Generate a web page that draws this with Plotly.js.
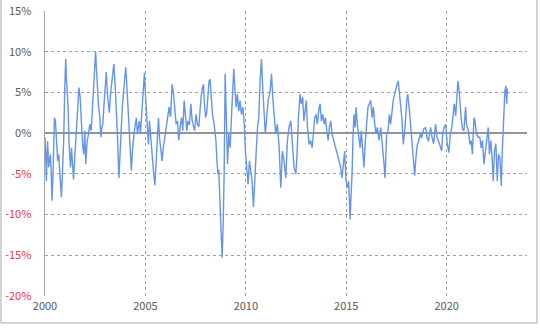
<!DOCTYPE html>
<html>
<head>
<meta charset="utf-8">
<script src="https://cdn.plot.ly/plotly-3.0.1.min.js"></script>
<style>
html,body{margin:0;padding:0;background:#fff;}
#chart{width:540px;height:328px;}
</style>
</head>
<body>
<div id="chart"></div>
<script>
// Decimal years (x) and values in percent (y)
const years = [
2000.00,2000.04,2000.07,2000.10,2000.13,2000.18,2000.22,2000.27,2000.31,2000.35,2000.40,2000.44,2000.47,2000.52,2000.57,2000.63,2000.68,2000.73,2000.77,2000.82,2000.85,2000.88,2000.93,2000.98,
2001.03,2001.07,2001.10,2001.15,2001.20,2001.27,2001.32,2001.37,2001.42,2001.47,2001.52,2001.57,2001.63,2001.69,2001.75,2001.80,2001.87,2001.93,2001.98,
2002.03,2002.10,2002.17,2002.23,2002.30,2002.37,2002.43,2002.48,2002.52,2002.56,2002.62,2002.67,2002.73,2002.78,2002.83,2002.88,2002.93,
2003.00,2003.05,2003.12,2003.20,2003.27,2003.35,2003.43,2003.50,2003.57,2003.62,2003.68,2003.74,2003.80,2003.85,2003.90,2003.97,
2004.02,2004.07,2004.12,2004.17,2004.23,2004.30,2004.35,2004.40,2004.45,2004.50,2004.55,2004.60,2004.65,2004.70,2004.75,2004.80,2004.85,2004.90,2004.95,2004.99,
2005.07,2005.15,2005.20,2005.27,2005.34,2005.40,2005.47,2005.52,2005.57,2005.65,2005.70,2005.77,2005.83,2005.88,
2006.02,2006.10,2006.18,2006.25,2006.33,2006.40,2006.47,2006.53,2006.60,2006.66,2006.73,2006.80,2006.86,2006.93,
2007.00,2007.06,2007.12,2007.19,2007.26,2007.33,2007.40,2007.45,2007.52,2007.59,2007.66,2007.72,2007.77,2007.84,2007.89,2007.94,
2008.00,2008.05,2008.10,2008.17,2008.22,2008.28,2008.34,2008.42,2008.51,2008.56,2008.61,2008.65,2008.70,2008.75,2008.79,2008.82,2008.87,2008.92,2008.97,
2009.02,2009.09,2009.15,2009.22,2009.29,2009.35,2009.40,2009.46,2009.52,2009.58,2009.65,2009.71,2009.78,2009.85,2009.92,2009.98,
2010.05,2010.11,2010.18,2010.25,2010.31,2010.38,2010.44,2010.51,2010.58,2010.645,2010.71,2010.78,2010.84,2010.91,2010.97,
2011.04,2011.11,2011.21,2011.28,2011.34,2011.41,2011.49,2011.57,2011.66,2011.74,2011.82,2011.90,2011.99,
2012.07,2012.15,2012.24,2012.32,2012.40,2012.49,2012.55,2012.62,2012.70,2012.76,2012.83,2012.89,2012.95,
2013.01,2013.07,2013.15,2013.22,2013.30,2013.36,2013.43,2013.50,2013.56,2013.65,2013.70,2013.76,2013.83,2013.90,2013.96,
2014.03,2014.10,2014.16,2014.23,2014.29,2014.39,2014.47,2014.56,2014.64,2014.72,2014.79,2014.85,2014.92,2014.99,
2015.06,2015.12,2015.19,2015.24,2015.29,2015.34,2015.39,2015.44,2015.49,2015.55,2015.62,2015.69,2015.75,2015.82,2015.88,2015.95,
2016.02,2016.08,2016.15,2016.22,2016.29,2016.35,2016.42,2016.48,2016.55,2016.63,2016.72,2016.80,2016.88,2016.93,2016.97,
2017.01,2017.08,2017.15,2017.21,2017.28,2017.34,2017.41,2017.48,2017.53,2017.59,2017.65,2017.71,2017.78,2017.84,2017.92,
2018.01,2018.06,2018.13,2018.20,2018.26,2018.34,2018.41,2018.47,2018.53,2018.60,2018.70,2018.75,2018.85,2018.95,
2019.02,2019.09,2019.16,2019.20,2019.27,2019.35,2019.45,2019.52,2019.60,2019.70,2019.75,2019.80,2019.87,2019.95,
2020.03,2020.11,2020.18,2020.26,2020.33,2020.38,2020.45,2020.52,2020.56,2020.62,2020.68,2020.73,2020.79,2020.86,2020.94,2020.99,
2021.08,2021.16,2021.22,2021.28,2021.36,2021.41,2021.48,2021.57,2021.65,2021.72,2021.78,2021.86,2021.93,
2022.02,2022.07,2022.13,2022.20,2022.27,2022.32,2022.38,2022.45,2022.52,2022.58,2022.65,2022.72,2022.77,2022.82,2022.86,2022.90,2022.95,2022.99,2023.02
];
const values = [
-0.5,-3.0,-5.9,-2.5,-1.0,-4.2,-3.0,-2.6,-5.0,-8.3,-5.0,-1.0,1.9,1.5,-0.9,-3.4,-2.6,-4.5,-5.9,-7.9,-6.0,-4.2,-0.9,5.2,
9.1,6.5,5.5,3.2,-1.4,-4.2,-1.8,-3.4,-5.7,-3.5,-1.0,1.1,4.0,5.6,4.4,1.1,-1.4,-2.6,0.3,
-3.8,-1.0,-0.1,1.1,0.3,3.2,5.6,7.7,10.0,8.0,4.8,3.2,1.9,-0.5,0.7,1.1,3.2,
6.0,7.5,4.5,2.5,5.0,6.5,8.5,5.5,2.0,-1.0,-5.5,-2.2,1.5,3.2,4.8,6.4,
8.1,6.1,4.0,1.5,-1.4,-4.6,-2.2,-0.5,0.3,1.1,1.9,-0.1,0.7,1.5,-0.1,1.9,4.4,6.4,7.4,5.2,
1.1,-1.4,1.5,-0.9,-2.6,-4.6,-6.4,-4.2,-2.2,1.9,-0.5,-1.8,-3.4,-2.0,
0.7,1.9,3.2,2.0,6.0,4.8,3.2,1.1,1.5,-0.9,0.8,1.9,0.3,4.0,
2.0,0.3,1.5,1.0,3.6,1.5,0.8,0.3,2.3,1.1,0.8,3.2,4.4,5.6,6.0,3.6,
1.9,2.5,4.0,6.4,6.6,4.8,2.3,1.1,-0.9,-3.4,-5.0,-4.5,-7.5,-10.4,-12.8,-15.3,-11.5,-5.0,7.3,
2.0,-3.8,-0.1,-1.8,2.3,6.4,7.9,5.2,3.2,4.8,2.7,4.0,2.3,3.2,1.1,-2.2,
-5.0,-6.3,-3.4,-4.6,-5.9,-9.1,-6.7,-2.6,0.7,1.9,6.4,9.1,5.6,2.7,-0.1,
1.9,4.0,5.2,7.3,4.4,1.9,-0.1,1.1,-1.8,-6.7,-2.2,-3.4,-5.5,
-0.9,0.7,1.5,-0.9,-4.2,-5.0,-2.6,1.9,4.8,3.6,4.4,1.5,3.2,
4.0,0.7,-1.4,-0.9,-1.8,-0.1,1.9,2.3,1.1,3.2,3.6,1.5,2.3,1.1,1.9,
0.3,-0.9,0.7,1.5,-0.1,-0.9,-1.8,-2.6,-3.4,-4.2,-5.5,-3.8,-2.2,-5.9,
-6.7,-5.9,-10.6,-7.6,-5.0,-0.1,2.3,0.7,3.2,1.1,-0.5,-1.8,0.3,-2.2,-4.2,-1.0,
1.1,3.2,3.6,4.0,1.9,3.2,1.1,-0.1,0.7,-0.9,0.7,-2.2,-3.8,-5.5,-2.2,
-0.1,0.3,2.3,1.1,3.2,4.0,4.8,5.6,6.0,6.4,5.0,4.0,1.5,-1.4,0.5,
4.0,4.8,3.2,1.0,-0.1,-2.8,-5.2,-3.0,-1.5,-1.0,0.0,-0.6,0.5,0.7,
-0.5,-1.0,0.5,0.7,-0.5,-1.3,1.1,-0.5,-1.0,-1.8,-2.2,-0.1,0.7,1.1,
-1.3,-2.4,-0.2,0.8,2.7,3.6,2.1,4.5,6.4,5.2,3.0,1.6,0.5,0.3,3.2,1.1,
0.3,-1.4,-0.9,-2.6,1.9,1.5,-0.1,-0.5,-0.5,-1.8,-0.9,-3.8,-2.2,
0.3,0.7,-2.6,-0.9,-3.4,-5.9,-2.2,-1.3,-5.9,-2.6,-3.0,-6.5,-2.2,-0.1,3.0,5.2,5.8,3.6,5.5
];
const xTickVals = [2000, 2005, 2010, 2015, 2020];
const xTickText = ['2000', '2005', '2010', '2015', '2020'];
const yTickVals = [15, 10, 5, 0, -5, -10, -15, -20];
const yTickText = yTickVals.map(v => v < 0
  ? '<span style="color:#e8383d">' + v + '%</span>'
  : v + '%');

const trace = {
  x: years, y: values, type: 'scatter', mode: 'lines',
  line: {color: '#6495ED', width: 1.4},
  hoverinfo: 'skip'
};

const layout = {
  width: 540, height: 328,
  margin: {l: 45, r: 13, t: 11, b: 32},
  paper_bgcolor: '#ffffff', plot_bgcolor: '#ffffff',
  font: {family: '"Noto Sans CJK JP", "DejaVu Sans", sans-serif', size: 11, color: '#595959'},
  showlegend: false,
  xaxis: {
    range: [2000, 2024], tickvals: xTickVals, ticktext: xTickText,
    showgrid: true, gridcolor: '#a0a0a0', griddash: 'dot', gridwidth: 1,
    zeroline: false, showline: false, ticks: '', ticklabelstandoff: 2,
    tickfont: {size: 11, color: '#595959'}
  },
  yaxis: {
    range: [-20, 15], tickvals: yTickVals, ticktext: yTickText,
    showgrid: true, gridcolor: '#a0a0a0', griddash: 'dot', gridwidth: 1,
    zeroline: true, zerolinecolor: '#959595', zerolinewidth: 1.5,
    showline: true, linecolor: '#a6a6a6', linewidth: 1.5,
    ticks: '', ticklabelstandoff: 10,
    tickfont: {size: 11, color: '#595959'}
  },
  shapes: [{
    type: 'rect', xref: 'paper', yref: 'paper',
    x0: -0.0913, x1: 1.0207, y0: -0.0947, y1: 1.042,
    line: {color: '#a6a6a6', width: 1}, fillcolor: 'rgba(0,0,0,0)'
  }]
};

Plotly.newPlot('chart', [trace], layout, {staticPlot: true, displayModeBar: false});
</script>
</body>
</html>
